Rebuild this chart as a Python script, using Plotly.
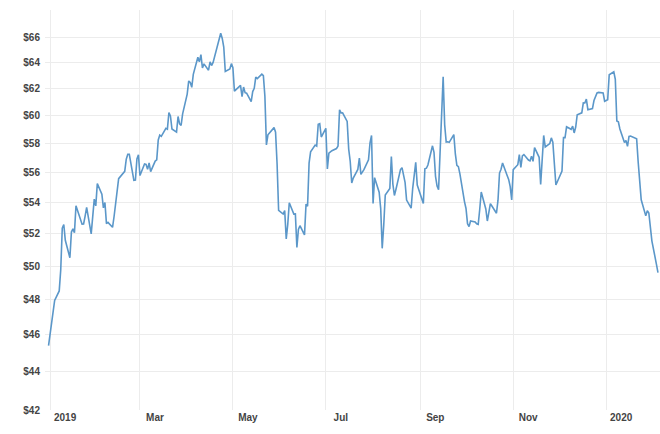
import numpy as np
import pandas as pd
import plotly.graph_objects as go

# Daily closing prices (USD)
p_2018_12 = [45.41]
p_2019_01 = [46.54, 47.09, 47.96, 48.52, 49.78, 52.36, 52.59, 51.59, 50.51, 52.11, 52.31,
             52.07, 53.80, 52.61, 52.62, 53.13, 53.69, 51.99, 53.31, 54.23, 53.79]
p_2019_02 = [55.26, 54.56, 53.66, 54.01, 52.64, 52.72, 52.41, 53.10, 53.90, 54.41, 55.59,
             56.09, 56.92, 57.26, 57.26, 55.48, 55.50, 56.94, 57.22]
p_2019_03 = [55.80, 56.59, 56.56, 56.22, 56.66, 56.07, 56.79, 56.87, 58.26, 58.61, 58.52,
             59.09, 59.03, 60.23, 59.98, 59.04, 58.82, 59.94, 59.41, 59.30, 60.14]
p_2019_04 = [61.59, 62.58, 62.46, 62.10, 63.08, 64.40, 64.05, 64.61, 63.58, 63.89, 63.40,
             64.05, 63.76, 64.00, 65.70, 66.30, 65.89, 65.21, 63.30, 63.50, 63.91]
p_2019_05 = [63.60, 61.81, 61.94, 62.25, 61.40, 62.12, 61.70, 61.66, 61.04, 61.78, 62.02,
             62.87, 62.76, 63.10, 62.99, 61.42, 57.91, 58.63, 59.14, 58.81, 56.59, 53.50]
p_2019_06 = [53.26, 53.48, 51.68, 52.59, 53.99, 53.26, 53.27, 51.14, 52.28, 52.51, 51.93,
             53.90, 53.76, 56.65, 57.43, 57.90, 57.83, 59.38, 59.43, 58.47]
p_2019_07 = [59.09, 56.25, 57.34, 57.51, 57.66, 57.83, 60.43, 60.20, 60.21, 59.58, 57.62,
             56.78, 55.30, 55.63, 56.22, 57.00, 55.88, 56.02, 56.20, 56.87, 58.05, 58.58]
p_2019_08 = [53.95, 55.66, 54.69, 53.63, 51.09, 52.54, 54.50, 54.93, 57.10, 55.23, 54.47,
             54.87, 56.21, 56.34, 55.68, 55.35, 54.17, 53.64, 54.93, 55.78, 56.71, 55.16]
p_2019_09 = [53.94, 56.26, 56.30, 56.52, 57.85, 57.40, 55.75, 55.09, 54.85, 62.90, 59.34,
             58.11, 58.13, 58.09, 58.64, 57.29, 56.49, 56.41, 55.91, 54.07]
p_2019_10 = [53.62, 52.64, 52.45, 52.81, 52.75, 52.63, 52.59, 53.55, 54.70, 53.59, 52.81,
             53.36, 53.93, 53.78, 53.31, 54.16, 55.97, 56.23, 56.66, 55.81, 55.54, 55.06, 54.18]
p_2019_11 = [56.20, 56.54, 57.23, 56.35, 57.15, 57.24, 56.86, 56.80, 57.12, 56.77, 57.72,
             57.05, 55.21, 57.11, 58.58, 57.77, 58.01, 58.41, 58.11, 55.17]
p_2019_12 = [55.96, 56.10, 58.43, 58.43, 59.20, 59.02, 59.24, 58.76, 59.18, 60.07, 60.21,
             60.94, 60.93, 61.22, 60.44, 60.52, 61.11, 61.68, 61.72, 61.68, 61.06]
p_2020_01 = [61.18, 63.05, 63.27, 62.70, 59.61, 59.56, 59.04, 58.08, 58.23, 57.81, 58.52,
             58.54, 58.34, 56.74, 55.59, 54.19, 53.14, 53.48, 53.33, 52.19, 51.56]
p_2020_02 = [50.11, 49.61]

market_holidays = ["2019-01-01", "2019-01-21", "2019-02-18", "2019-04-19", "2019-05-27",
                   "2019-07-04", "2019-09-02", "2019-11-28", "2019-12-25", "2020-01-01",
                   "2020-01-20"]

y_tick_vals = [42, 44, 46, 48, 50, 52, 54, 56, 58, 60, 62, 64, 66]
y_tick_text = ["$42", "$44", "$46", "$48", "$50", "$52", "$54", "$56", "$58", "$60", "$62", "$64", "$66"]
x_tick_vals = ["2019-01-01", "2019-03-01", "2019-05-01", "2019-07-01", "2019-09-01",
               "2019-11-01", "2020-01-01"]
x_tick_text = ["2019", "Mar", "May", "Jul", "Sep", "Nov", "2020"]

prices = (p_2018_12 + p_2019_01 + p_2019_02 + p_2019_03 + p_2019_04 + p_2019_05 + p_2019_06
          + p_2019_07 + p_2019_08 + p_2019_09 + p_2019_10 + p_2019_11 + p_2019_12
          + p_2020_01 + p_2020_02)
days = pd.bdate_range("2018-12-31", "2020-02-04")
days = days[~days.isin(pd.to_datetime(market_holidays))]
assert len(days) == len(prices), (len(days), len(prices))

fig = go.Figure()
fig.add_trace(go.Scatter(
    x=days, y=prices, mode="lines",
    line=dict(color="#5b97c9", width=1.6),
    hoverinfo="x+y",
))

font_family = "Liberation Sans, Arial, sans-serif"
fig.update_layout(
    width=660, height=434,
    margin=dict(l=45, r=0, t=10, b=24),
    paper_bgcolor="white", plot_bgcolor="white",
    showlegend=False,
    font=dict(family=font_family, size=10, color="#444"),
    xaxis=dict(
        range=["2018-12-28 16:00", "2020-02-05 08:00"],
        tickvals=x_tick_vals, ticktext=x_tick_text,
        ticklabelshift=15,
        automargin=False,
        showgrid=True, gridcolor="#ececec", gridwidth=1,
        zeroline=False, showline=False, ticks="",
        tickfont=dict(family=font_family, size=10, color="#444", weight="bold"),
    ),
    yaxis=dict(
        type="log",
        range=[np.log10(42), np.log10(68.2)],
        tickvals=y_tick_vals, ticktext=y_tick_text,
        automargin=False,
        showgrid=True, gridcolor="#ececec", gridwidth=1,
        zeroline=False, showline=False, ticks="",
        ticklabelstandoff=4,
        tickfont=dict(family=font_family, size=10, color="#444", weight="bold"),
    ),
)

fig.write_html("out.html",
               config={"displayModeBar": False},
               post_script="document.body.style.margin='0';document.body.style.overflow='hidden';")
